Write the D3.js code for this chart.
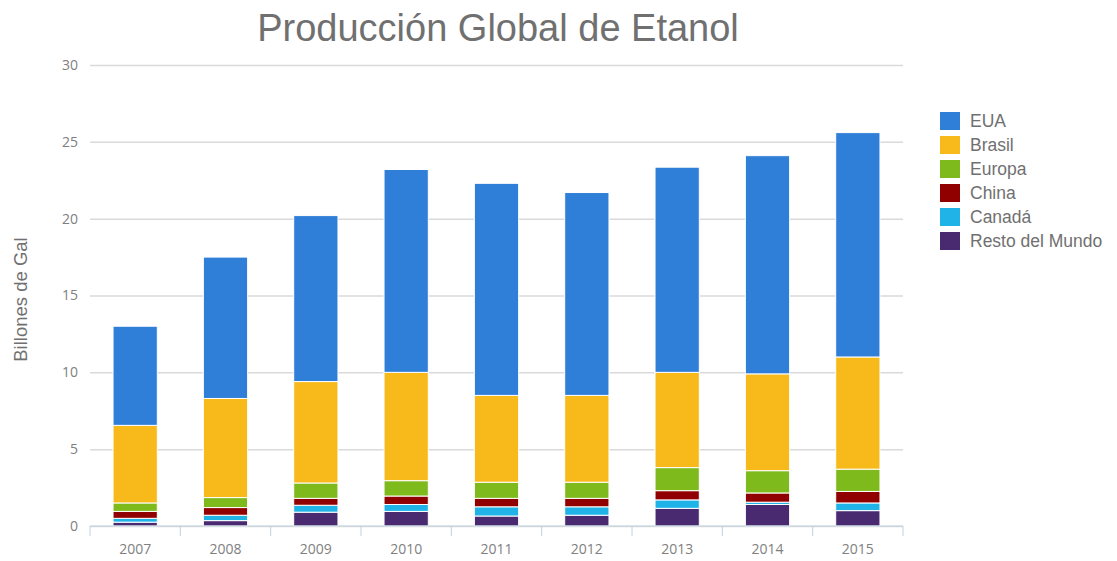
<!DOCTYPE html>
<html>
<head>
<meta charset="utf-8">
<script src="https://cdn.jsdelivr.net/npm/d3@7"></script>
<style>
  html, body { margin: 0; padding: 0; background: #fff; }
  svg { display: block; font-family: "Liberation Sans", Arial, sans-serif; }
</style>
</head>
<body>
<svg id="chart" width="1117" height="561"></svg>
<script>
// Ethanol production by region, billions of gallons
const years = ["2007", "2008", "2009", "2010", "2011", "2012", "2013", "2014", "2015"];
const seriesNames = ["EUA", "Brasil", "Europa", "China", "Canadá", "Resto del Mundo"];
const seriesColors = ["#2f7ed8", "#f8b91a", "#7fba1c", "#910000", "#1fb3e8", "#492970"];

const eua    = [6.45, 9.2, 10.8, 13.2, 13.8, 13.2, 13.35, 14.2, 14.6];
const brasil = [5.05, 6.45, 6.6, 7.05, 5.65, 5.65, 6.2, 6.3, 7.3];
const europa = [0.55, 0.65, 1.0, 1.0, 1.05, 1.05, 1.5, 1.45, 1.45];
const china  = [0.45, 0.5, 0.45, 0.55, 0.55, 0.55, 0.6, 0.6, 0.75];
const canada = [0.25, 0.35, 0.45, 0.45, 0.6, 0.55, 0.55, 0.15, 0.5];
const resto  = [0.25, 0.35, 0.9, 0.95, 0.65, 0.7, 1.15, 1.4, 1.0];

const yTicks = [0, 5, 10, 15, 20, 25, 30];

// stacking order from bottom to top
const stackOrder = ["Resto del Mundo", "Canadá", "China", "Europa", "Brasil", "EUA"];
const valuesByName = {
  "EUA": eua, "Brasil": brasil, "Europa": europa,
  "China": china, "Canadá": canada, "Resto del Mundo": resto
};
const rows = years.map((yr, i) => {
  const r = { year: yr };
  seriesNames.forEach(n => { r[n] = valuesByName[n][i]; });
  return r;
});

const svg = d3.select("#chart");
const margin = { left: 90, right: 214, top: 65, bottom: 35 };
const W = 1117, H = 561;

const x = d3.scaleBand().domain(years).range([margin.left, W - margin.right]).paddingInner(0.51).paddingOuter(0.255);
const y = d3.scaleLinear().domain([0, 30]).range([H - margin.bottom, margin.top]);
const color = d3.scaleOrdinal().domain(seriesNames).range(seriesColors);

// title
svg.append("text")
  .attr("x", 498).attr("y", 41)
  .attr("text-anchor", "middle")
  .attr("font-size", 38)
  .attr("fill", "#707070")
  .text("Producción Global de Etanol");

// gridlines and y labels
const yAxis = d3.axisLeft(y).tickValues(yTicks).tickSize(-(W - margin.right - margin.left)).tickPadding(12);
const gy = svg.append("g").attr("transform", `translate(${margin.left},0)`).call(yAxis);
gy.select(".domain").remove();
gy.selectAll(".tick line").attr("stroke", "#dadada").attr("stroke-width", 1.5);
gy.selectAll(".tick text").attr("fill", "#808080").attr("font-size", 14).attr("font-family", "'Open Sans', sans-serif");

// y axis title
svg.append("text")
  .attr("transform", `translate(27,${y(15) + 4}) rotate(-90)`)
  .attr("text-anchor", "middle")
  .attr("font-size", 18.5)
  .attr("fill", "#707070")
  .text("Billones de Gal");

// stacked bars
const stack = d3.stack().keys(stackOrder);
const layers = stack(rows);
svg.append("g").selectAll("g")
  .data(layers)
  .join("g")
  .attr("fill", d => color(d.key))
  .selectAll("rect")
  .data(d => d)
  .join("rect")
  .attr("x", d => x(d.data.year))
  .attr("width", x.bandwidth())
  .attr("y", d => y(d[1]))
  .attr("height", d => y(d[0]) - y(d[1]))
  .attr("stroke", "#fff")
  .attr("stroke-width", 1);

// x axis with ticks on category boundaries
const gx = svg.append("g").attr("transform", `translate(0,${y(0)})`);
gx.append("line")
  .attr("x1", margin.left).attr("x2", W - margin.right)
  .attr("stroke", "#c0d0e0").attr("stroke-width", 1);
const step = x.step();
const bounds = d3.range(years.length + 1).map(i => margin.left + i * step);
gx.selectAll("line.tk")
  .data(bounds)
  .join("line")
  .attr("class", "tk")
  .attr("x1", d => d).attr("x2", d => d)
  .attr("y1", 0).attr("y2", 10)
  .attr("stroke", "#c0d0e0");
gx.selectAll("text")
  .data(years)
  .join("text")
  .attr("x", d => x(d) + x.bandwidth() / 2)
  .attr("y", 28)
  .attr("text-anchor", "middle")
  .attr("font-size", 14)
  .attr("font-family", "'Open Sans', sans-serif")
  .attr("fill", "#808080")
  .text(d => d);

// legend
const lg = svg.append("g").attr("transform", "translate(940,112)");
const item = lg.selectAll("g")
  .data(seriesNames)
  .join("g")
  .attr("transform", (d, i) => `translate(0,${i * 24})`);
item.append("rect")
  .attr("width", 20).attr("height", 18)
  .attr("fill", d => color(d));
item.append("text")
  .attr("x", 30).attr("y", 15)
  .attr("font-size", 17.5)
  .attr("fill", "#707070")
  .text(d => d);
</script>
</body>
</html>
